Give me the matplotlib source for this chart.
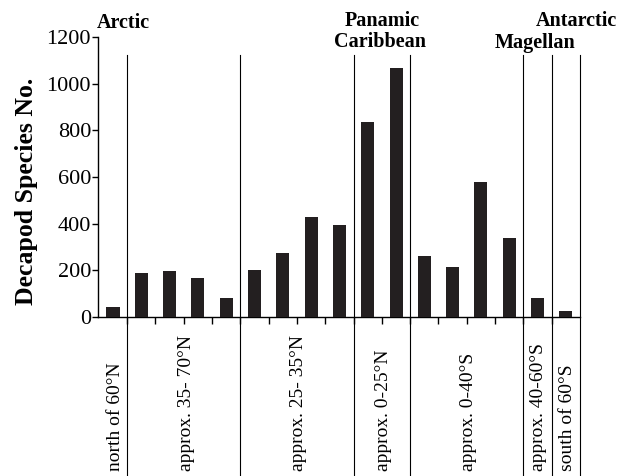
import matplotlib
matplotlib.use("Agg")
import matplotlib.pyplot as plt
import numpy as np

plt.rcParams['font.family'] = ['Liberation Serif', 'DejaVu Serif']

# Data
values = [41, 187, 198, 166, 80, 200, 273, 429, 393, 836, 1068, 260, 216, 578, 339, 81, 26]
group_sizes = [1, 4, 4, 2, 4, 1, 1]
group_labels = ["north of 60°N", "approx. 35- 70°N", "approx. 25- 35°N", "approx. 0-25°N",
                "approx. 0-40°S", "approx. 40-60°S", "south of 60°S"]
y_ticks = [0, 200, 400, 600, 800, 1000, 1200]
y_label = "Decapod Species No."
region_labels = [("Arctic", 97, 23, 'left'), ("Panamic", 382, 21, 'center'),
                 ("Caribbean", 380, 42, 'center'), ("Antarctic", 576, 21, 'center'),
                 ("Magellan", 535, 43, 'center')]

W, H = 618, 476
fig = plt.figure(figsize=(W / 100, H / 100), dpi=100)
ax = fig.add_axes([98 / W, 1 - 317 / H, (580 - 98) / W, (317 - 37) / H])

x = np.arange(len(values))
ax.bar(x, values, width=0.46, color='#231f20', zorder=3)
ax.set_xlim(-0.53, 16.5)
ax.set_ylim(0, 1200)

for s in ['top', 'right']:
    ax.spines[s].set_visible(False)
for s in ['left', 'bottom']:
    ax.spines[s].set_linewidth(1.0)

ax.set_yticks(y_ticks)
ax.tick_params(axis='y', direction='out', length=4, width=1, labelsize=16, pad=1)
ax.set_xticks(np.arange(len(values) - 1) + 0.5)
ax.set_xticklabels([])
ax.tick_params(axis='x', direction='out', length=5, width=1)

ax.set_ylabel(y_label, fontsize=18.5, fontweight='bold')
ax.yaxis.set_label_coords(-0.125, 0.45)

# dividers
bounds = np.cumsum(group_sizes)
y_bottom = -(H - 317) / ((317 - 37) / 1200)
for b in bounds:
    ax.plot([b - 0.5, b - 0.5], [1125, y_bottom], color='black', lw=0.8, clip_on=False, zorder=2)

# group labels
starts = np.concatenate([[0], bounds[:-1]])
offsets = [0.1, 0.1, 0.05, 0.05, 0.05, 0.05, 0.05]
for st, n, lab, off in zip(starts, group_sizes, group_labels, offsets):
    c = st + (n - 1) / 2 + off
    ax.text(c, y_bottom + 20, lab, rotation=90, ha='center', va='bottom',
            fontsize=14, clip_on=False)

for txt, px, py, ha in region_labels:
    fig.text(px / W, 1 - py / H, txt, ha=ha, va='center', fontsize=14.5, fontweight='bold')

fig.savefig('out.png', dpi=100)
